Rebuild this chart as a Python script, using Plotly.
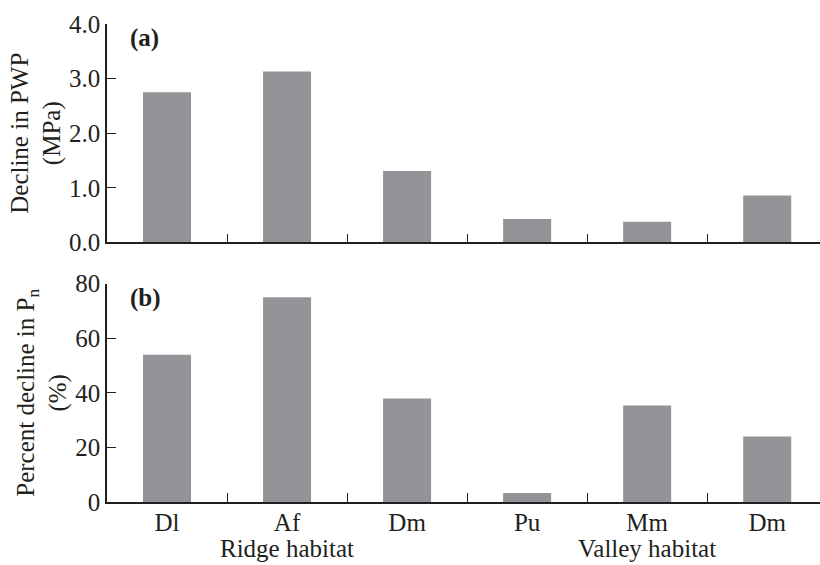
import plotly.graph_objects as go
from plotly.subplots import make_subplots

# Species and habitat groups
species = ["Dl", "Af", "Dm", "Pu", "Mm", "Dm"]
habitats = ["Ridge habitat", "Valley habitat"]
habitat_centers = [1, 4]  # middle species of each habitat group

# (a) Decline in predawn water potential (MPa)
pwp_decline = [2.75, 3.13, 1.31, 0.43, 0.38, 0.86]
# (b) Percent decline in net photosynthesis
pn_decline = [53.9, 75.0, 37.9, 3.3, 35.3, 24.0]

pos = list(range(len(species)))
boundaries = [i + 0.5 for i in pos[:-1]]

FONT = '"Times New Roman", "Liberation Serif", Times, serif'
FS = 25
BAR = "#939498"
INK = "#231f20"

fig = make_subplots(rows=2, cols=1, shared_xaxes=False, vertical_spacing=0.086)

fig.add_trace(go.Bar(x=pos, y=pwp_decline, width=0.4, marker=dict(color=BAR, line_width=0)), row=1, col=1)
fig.add_trace(go.Bar(x=pos, y=pn_decline, width=0.4, marker=dict(color=BAR, line_width=0)), row=2, col=1)

xcommon = dict(
    range=[-0.5, 5.44], showgrid=False, zeroline=False,
    showline=True, linecolor=INK, linewidth=1.5,
    tickvals=pos, ticktext=species, ticks="",
    minor=dict(tickvals=boundaries, ticks="inside", ticklen=9, tickwidth=1.2, tickcolor=INK),
    tickfont=dict(family=FONT, size=FS, color=INK),
)
fig.update_xaxes(**xcommon)
fig.update_xaxes(showticklabels=False, row=1, col=1)
fig.update_xaxes(ticklabelstandoff=-3, row=2, col=1)

ycommon = dict(
    showgrid=False, zeroline=False, showline=True, linecolor=INK, linewidth=1.5,
    ticks="inside", ticklen=9, tickwidth=1.2, tickcolor=INK,
    tickfont=dict(family=FONT, size=FS, color=INK),
    title_font=dict(family=FONT, size=FS, color=INK),
)
fig.update_yaxes(**ycommon)
fig.update_yaxes(range=[0, 4], tickvals=[0, 1, 2, 3, 4], tickformat=".1f",
                 title=dict(text="Decline in PWP<br>(MPa)", standoff=1), row=1, col=1)
fig.update_yaxes(range=[0, 80], tickvals=[0, 20, 40, 60, 80],
                 title=dict(text="Percent decline in P<sub>n</sub><br>(%)", standoff=1), row=2, col=1)

# Panel letters
for ref, letter in [("y", "(a)"), ("y2", "(b)")]:
    fig.add_annotation(text=f"<b>{letter}</b>", xref="x domain" if ref == "y" else "x2 domain",
                       yref=f"{ref} domain", x=0.029, y=1.0, xanchor="left", yanchor="top",
                       yshift=2, showarrow=False, font=dict(family=FONT, size=FS, color=INK))

# Habitat group labels under the lower axis
for name, cx in zip(habitats, habitat_centers):
    fig.add_annotation(text=name, xref="x2", yref="paper", x=cx, y=-0.098,
                       xanchor="center", yanchor="middle", showarrow=False,
                       font=dict(family=FONT, size=FS, color=INK))

fig.update_layout(
    width=820, height=565,
    margin=dict(l=107, r=0, t=24, b=63),
    plot_bgcolor="white", paper_bgcolor="white",
    showlegend=False, bargap=0.6,
)

fig.write_html("out.html")
